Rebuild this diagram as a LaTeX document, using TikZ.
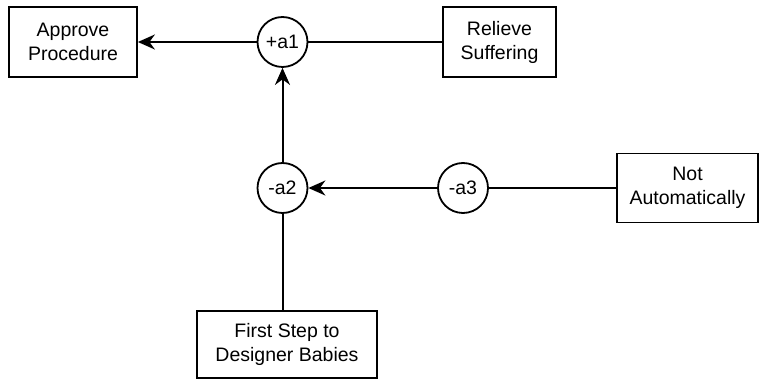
\documentclass[tikz,border=0pt]{standalone}
\usepackage{fontspec}
\setmainfont{Liberation Sans}
\usetikzlibrary{arrows.meta}
\begin{document}
\begin{tikzpicture}[x=1pt,y=-1pt,
  every node/.style={font=\fontsize{19.5}{24}\selectfont, align=center, inner sep=0pt, line width=1.8pt},
  box/.style={draw, rectangle},
  circ/.style={draw, circle, minimum size=50pt},
  conn/.style={line width=2pt},
  arr/.style={conn, -{Stealth[length=17pt,width=15pt,inset=5.5pt]}}]
\useasboundingbox (0,0) rectangle (760,379);
\node[box, minimum width=128pt, minimum height=70pt] (approve) at (73,42) {Approve\\Procedure};
\node[circ] (a1) at (282.5,42) {+a1};
\node[box, minimum width=113pt, minimum height=70pt] (relieve) at (499.5,42) {Relieve\\Suffering};
\node[circ] (a2) at (282.5,188) {-a2};
\node[circ] (a3) at (463,188) {-a3};
\node[box, minimum width=141pt, minimum height=69pt] (notauto) at (687.5,188) {Not\\Automatically};
\node[box, minimum width=180pt, minimum height=67pt] (first) at (287,344.5) {First Step to\\Designer Babies};
\draw[arr] (a1) -- (approve);
\draw[conn] (relieve) -- (a1);
\draw[arr] (a2) -- (a1);
\draw[arr] (a3) -- (a2);
\draw[conn] (notauto) -- (a3);
\draw[conn] (first.north -| a2) -- (a2);
\end{tikzpicture}
\end{document}
